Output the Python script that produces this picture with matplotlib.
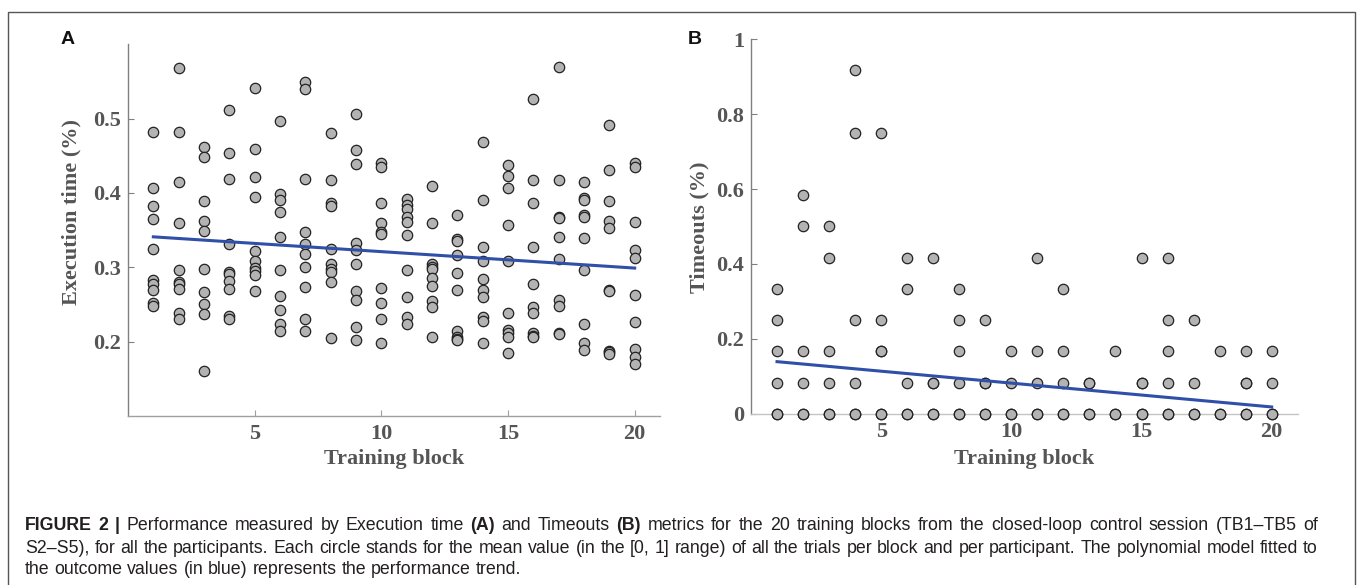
import matplotlib
matplotlib.use("Agg")
import matplotlib.pyplot as plt
from matplotlib.patches import Rectangle

# ---------------- data ----------------
blocks = list(range(1, 21))

exec_time_by_block = [
    [0.482, 0.407, 0.382, 0.365, 0.324, 0.283, 0.278, 0.269, 0.252, 0.248],
    [0.568, 0.482, 0.415, 0.360, 0.296, 0.280, 0.277, 0.271, 0.238, 0.230],
    [0.462, 0.448, 0.389, 0.362, 0.349, 0.298, 0.267, 0.251, 0.237, 0.160],
    [0.511, 0.454, 0.419, 0.331, 0.294, 0.291, 0.281, 0.271, 0.235, 0.230],
    [0.541, 0.459, 0.421, 0.395, 0.322, 0.308, 0.299, 0.295, 0.289, 0.268],
    [0.497, 0.399, 0.390, 0.374, 0.341, 0.296, 0.262, 0.243, 0.224, 0.214],
    [0.549, 0.540, 0.419, 0.347, 0.331, 0.318, 0.301, 0.273, 0.231, 0.214],
    [0.481, 0.417, 0.386, 0.383, 0.325, 0.305, 0.298, 0.294, 0.280, 0.205],
    [0.506, 0.458, 0.439, 0.333, 0.323, 0.305, 0.268, 0.256, 0.220, 0.202],
    [0.441, 0.435, 0.386, 0.360, 0.348, 0.345, 0.272, 0.252, 0.230, 0.198],
    [0.392, 0.384, 0.378, 0.368, 0.361, 0.344, 0.297, 0.260, 0.233, 0.224],
    [0.410, 0.360, 0.305, 0.301, 0.298, 0.285, 0.275, 0.255, 0.246, 0.206],
    [0.371, 0.338, 0.335, 0.317, 0.293, 0.270, 0.214, 0.206, 0.204, 0.202],
    [0.468, 0.390, 0.327, 0.308, 0.284, 0.270, 0.260, 0.233, 0.228, 0.198],
    [0.438, 0.423, 0.407, 0.357, 0.308, 0.239, 0.216, 0.211, 0.206, 0.185],
    [0.526, 0.417, 0.387, 0.327, 0.278, 0.247, 0.238, 0.211, 0.208, 0.206],
    [0.570, 0.417, 0.368, 0.367, 0.341, 0.311, 0.256, 0.248, 0.212, 0.210],
    [0.415, 0.393, 0.390, 0.370, 0.368, 0.339, 0.296, 0.224, 0.198, 0.189],
    [0.491, 0.431, 0.389, 0.362, 0.353, 0.270, 0.268, 0.188, 0.186, 0.184],
    [0.440, 0.435, 0.361, 0.323, 0.312, 0.263, 0.227, 0.190, 0.179, 0.170],
]

timeouts_by_block = [
    [0.333, 0.250, 0.167, 0.083, 0.0, 0.0],
    [0.583, 0.500, 0.167, 0.083, 0.0, 0.0],
    [0.500, 0.417, 0.167, 0.083, 0.0, 0.0],
    [0.917, 0.750, 0.250, 0.083, 0.0, 0.0],
    [0.750, 0.250, 0.167, 0.167, 0.0, 0.0],
    [0.417, 0.333, 0.083, 0.0, 0.0],
    [0.417, 0.083, 0.083, 0.0, 0.0],
    [0.333, 0.250, 0.167, 0.083, 0.0, 0.0],
    [0.250, 0.083, 0.083, 0.0, 0.0],
    [0.167, 0.083, 0.0, 0.0],
    [0.417, 0.167, 0.083, 0.0, 0.0],
    [0.333, 0.167, 0.083, 0.0, 0.0],
    [0.083, 0.083, 0.0, 0.0],
    [0.167, 0.0, 0.0],
    [0.417, 0.083, 0.083, 0.0, 0.0],
    [0.417, 0.250, 0.167, 0.083, 0.0, 0.0],
    [0.250, 0.083, 0.0, 0.0],
    [0.167, 0.0, 0.0],
    [0.167, 0.083, 0.083, 0.0, 0.0],
    [0.167, 0.083, 0.0, 0.0],
]

trend_blocks = [1, 20]
trend_exec_time = [0.341, 0.299]
trend_timeouts = [0.139, 0.018]

xticks = [5, 10, 15, 20]
yticks_a = [0.2, 0.3, 0.4, 0.5]
yticks_b = [0, 0.2, 0.4, 0.6, 0.8, 1]
yticklabels_b = ["0", "0.2", "0.4", "0.6", "0.8", "1"]

# ---------------- style ----------------
W, H = 1357, 585
fig = plt.figure(figsize=(W / 100, H / 100), dpi=100)

serif = "Liberation Serif"
sans = "Liberation Sans"
label_color = "#555555"
fill = "#b3b3b3"
edge = "#222222"
blue = "#2f4fa8"
fs_tick = 16


def px_axes(left, right, top, bottom):
    return [left / W, (H - bottom) / H, (right - left) / W, (bottom - top) / H]


axA = fig.add_axes(px_axes(128, 660, 44.3, 416))
axB = fig.add_axes(px_axes(751, 1297.7, 39.3, 413.7))


def style(ax, bottom_col, left_col):
    for s in ("top", "right"):
        ax.spines[s].set_visible(False)
    ax.spines["bottom"].set_color(bottom_col)
    ax.spines["left"].set_color(left_col)
    ax.spines["bottom"].set_linewidth(1.0)
    ax.spines["left"].set_linewidth(1.0)
    ax.tick_params(axis="x", direction="in", length=4.3, width=0.8,
                   color=bottom_col, pad=6)
    ax.tick_params(axis="y", direction="in", length=4.3, width=0.8,
                   color=left_col, pad=5)
    for lab in ax.get_xticklabels() + ax.get_yticklabels():
        lab.set_fontfamily(serif)
        lab.set_fontweight("bold")
        lab.set_fontsize(fs_tick)
        lab.set_color(label_color)


# Panel A
for b, vals in zip(blocks, exec_time_by_block):
    axA.scatter([b] * len(vals), vals, s=56, facecolor=fill, edgecolor=edge,
                linewidth=0.9, zorder=3, clip_on=False)
axA.plot(trend_blocks, trend_exec_time, color=blue, lw=2.2, zorder=4)
axA.set_xlim(0, 21)
axA.set_ylim(0.1, 0.6)
axA.set_xticks(xticks)
axA.set_yticks(yticks_a)
axA.set_yticklabels([f"{v:.1f}" for v in yticks_a])
style(axA, "#a0a0a0", "#808080")
axA.set_xlabel("Training block", fontfamily=serif, fontweight="bold",
               fontsize=fs_tick, color=label_color)
axA.set_ylabel("Execution time (%)", fontfamily=serif, fontweight="bold",
               fontsize=fs_tick, color=label_color)
axA.xaxis.set_label_coords(0.5, -0.088)
axA.yaxis.set_label_coords(-0.088, 0.548)

# Panel B
for b, vals in zip(blocks, timeouts_by_block):
    axB.scatter([b] * len(vals), vals, s=56, facecolor=fill, edgecolor=edge,
                linewidth=0.9, zorder=3, clip_on=False)
axB.plot(trend_blocks, trend_timeouts, color=blue, lw=2.2, zorder=4)
axB.set_xlim(0, 21)
axB.set_ylim(0, 1)
axB.set_xticks(xticks)
axB.set_yticks(yticks_b)
axB.set_yticklabels(yticklabels_b)
style(axB, "#c4c4c4", "#808080")
axB.set_xlabel("Training block", fontfamily=serif, fontweight="bold",
               fontsize=fs_tick, color=label_color)
axB.set_ylabel("Timeouts (%)", fontfamily=serif, fontweight="bold",
               fontsize=fs_tick, color=label_color)
axB.xaxis.set_label_coords(0.5, -0.094)
axB.yaxis.set_label_coords(-0.076, 0.497)

# Panel letters
fig.text(68 / W, 1 - 40 / H, "A", fontfamily=sans, fontweight="bold",
         fontsize=14, ha="center", va="center", color="#111111")
fig.text(695 / W, 1 - 39 / H, "B", fontfamily=sans, fontweight="bold",
         fontsize=14, ha="center", va="center", color="#111111")

# Outer frame
fig.patches.append(Rectangle((8 / W, -0.02), (1355 - 8) / W, 1.02 - 12 / H,
                             transform=fig.transFigure, fill=False,
                             edgecolor="#555555", linewidth=1.0))

# ---------------- caption ----------------
fig.canvas.draw()
renderer = fig.canvas.get_renderer()
cap_color = "#231f20"

line1 = [("FIGURE 2 |", "bold"),
         ("Performance measured by Execution time", "normal"),
         ("(A)", "bold"), ("and Timeouts", "normal"), ("(B)", "bold"),
         ("metrics for the 20 training blocks from the closed-loop control session (TB1–TB5 of",
          "normal")]
line2 = [("S2–S5), for all the participants. Each circle stands for the mean value (in the [0, 1] range) of all the trials per block and per participant. The polynomial model fitted to",
          "normal")]
line3 = [("the outcome values (in blue) represents the performance trend.", "normal")]


def measure(s, weight, fs):
    t = fig.text(0, 0, s, fontsize=fs, fontweight=weight, fontfamily=sans)
    w = t.get_window_extent(renderer).width
    t.remove()
    return w


# choose the caption size so the longest line fills the caption width naturally
x0_cap, x1_cap = 25, 1318
ref_fs = 10.0
nat = measure(line2[0][0], "normal", ref_fs)
cap_fs = ref_fs * (x1_cap - x0_cap - 4) / nat


def tokens(segments):
    out = []
    for text, weight in segments:
        for w in text.split(" "):
            if w:
                out.append((w, weight))
    return out


space_w = measure("a a", "normal", cap_fs) - measure("aa", "normal", cap_fs)


def draw_line(segments, y_px, justify=True):
    toks = tokens(segments)
    widths = [measure(w, wt, cap_fs) for w, wt in toks]
    if justify and len(toks) > 1:
        gap = (x1_cap - x0_cap - sum(widths)) / (len(toks) - 1)
    else:
        gap = space_w
    x = x0_cap
    for (w, wt), wd in zip(toks, widths):
        fig.text(x / W, 1 - y_px / H, w, fontsize=cap_fs, fontweight=wt,
                 fontfamily=sans, color=cap_color, va="baseline", ha="left")
        x += wd + gap


draw_line(line1, 530)
draw_line(line2, 553)
draw_line(line3, 574, justify=False)

fig.savefig("out.png", dpi=100)
